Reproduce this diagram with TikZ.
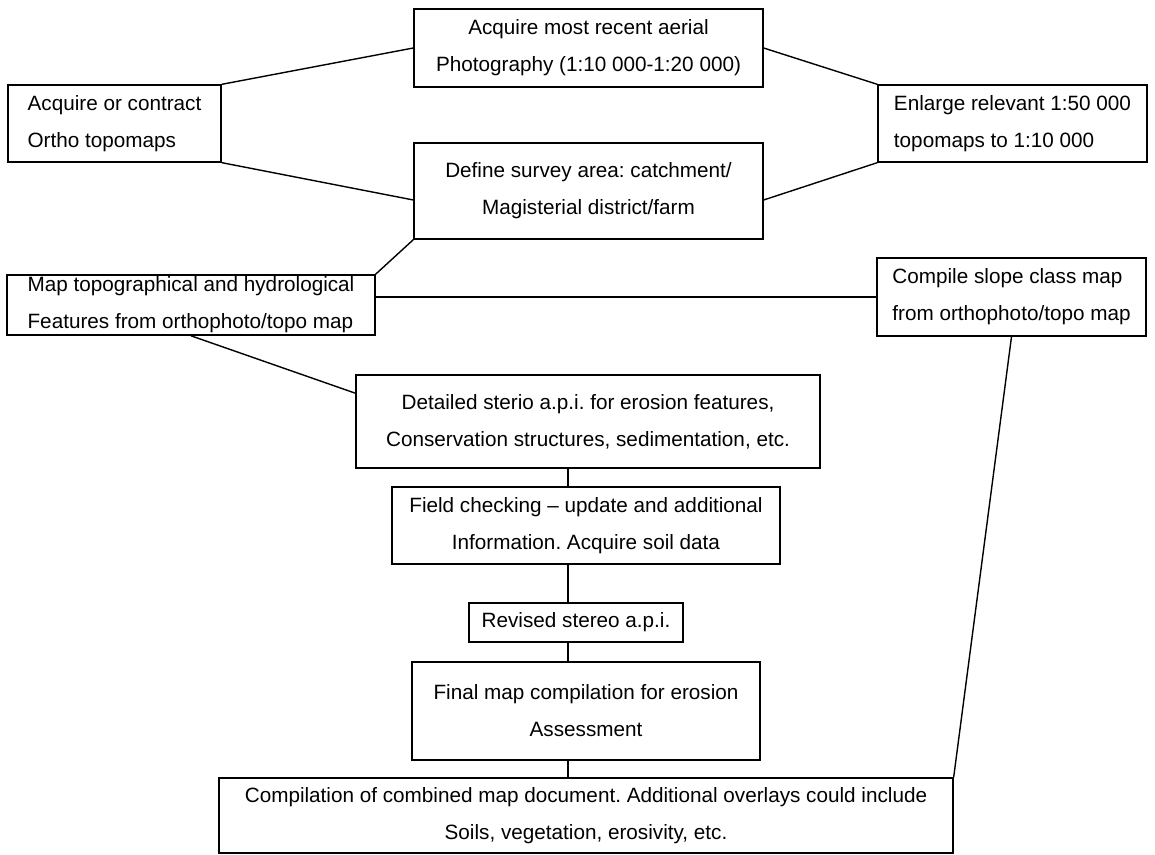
\documentclass[tikz,border=0pt]{standalone}
\usepackage{fontspec}
\setmainfont{Liberation Sans}
\usetikzlibrary{calc}
\frenchspacing

\begin{document}
\begin{tikzpicture}[x=0.5pt, y=-0.5pt, line width=0.7pt,
    every node/.style={font=\fontsize{10.35}{18.5}\selectfont, align=center},
    box/.style={draw, line width=0.65pt, inner sep=1pt}]
  \useasboundingbox (0,0) rectangle (1155,855);
  % top rows
  \node[box, minimum width=174.5pt, minimum height=39pt] (aerial) at (588.5,48)
      {Acquire most recent aerial\\Photography (1:10 000-1:20 000)};
  \node[box, align=left, minimum width=106.5pt, minimum height=38.5pt] (ortho) at (114.5,123.5)
      {Acquire or contract\\Ortho topomaps};
  \node[box, align=left, minimum width=134.5pt, minimum height=38.5pt] (enlarge) at (1012.5,123.5)
      {Enlarge relevant 1:50 000\\topomaps to 1:10 000};
  \node[box, minimum width=174.5pt, minimum height=48pt] (survey) at (588.5,191)
      {Define survey area: catchment/\\Magisterial district/farm};
  \node[box, align=left, minimum width=184pt, minimum height=30pt] (mapfeat) at (191,305)
      {Map topographical and hydrological\\Features from orthophoto/topo map};
  \node[box, align=left, minimum width=134.5pt, minimum height=39pt] (slope) at (1011.5,297)
      {Compile slope class map\\from orthophoto/topo map};
  % central chain
  \node[box, minimum width=232pt, minimum height=46.5pt] (stereo) at (588,421.5)
      {Detailed sterio a.p.i. for erosion features,\\Conservation structures, sedimentation, etc.};
  \node[box, minimum width=194pt, minimum height=38.5pt] (field) at (586,525.5)
      {Field checking -- update and additional\\Information. Acquire soil data};
  \node[box, minimum width=107pt, minimum height=19.5pt] (revised) at (576,622.5)
      {Revised stereo a.p.i.};
  \node[box, minimum width=174pt, minimum height=49pt] (final) at (586,711)
      {Final map compilation for erosion\\Assessment};
  \node[box, minimum width=367pt, minimum height=37.5pt] (combined) at (586,815.5)
      {Compilation of combined map document. Additional overlays could include\\Soils, vegetation, erosivity, etc.};
  \coordinate (spine) at (568,0);
  % links
  \draw (ortho.north east) -- (aerial.west);
  \draw (ortho.south east) -- ($(survey.west)+(0,9)$);
  \draw (aerial.east) -- (enlarge.north west);
  \draw ($(survey.east)+(0,9)$) -- (enlarge.south west);
  \draw (survey.south west) -- (mapfeat.north east);
  \draw (slope.west) -- (slope.west -| mapfeat.east);
  \draw (mapfeat.south) -- ($(stereo.north west)!0.2!(stereo.south west)$);
  \draw (slope.south) -- (combined.north east);
  \foreach \a/\b in {stereo/field, field/revised, revised/final, final/combined}
    \draw (\a.south -| spine) -- (\b.north -| spine);
\end{tikzpicture}
\end{document}
